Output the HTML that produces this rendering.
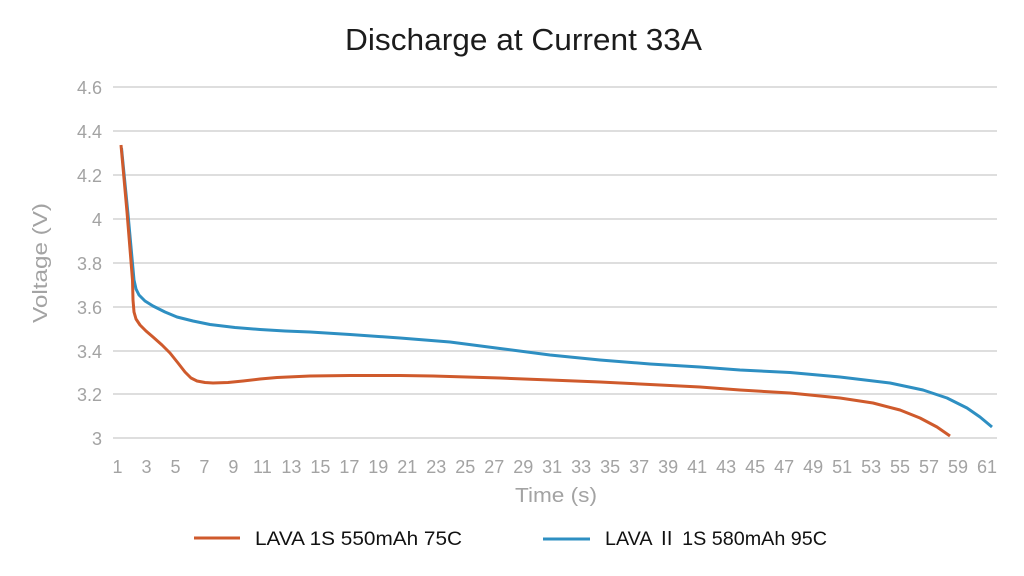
<!DOCTYPE html>
<html>
<head>
<meta charset="utf-8">
<style>
html,body{margin:0;padding:0;background:#fff;}
svg{display:block;}
text{font-family:"Liberation Sans","Noto Sans CJK SC",sans-serif;}
</style>
</head>
<body>
<svg width="1024" height="576" viewBox="0 0 1024 576" xmlns="http://www.w3.org/2000/svg">
<rect width="1024" height="576" fill="#fff"/>
<!-- title -->
<text x="345" y="50" font-size="31" fill="#1c1c1c" textLength="357" lengthAdjust="spacingAndGlyphs">Discharge at Current 33A</text>
<!-- gridlines -->
<g stroke="#d4d4d4" stroke-width="1.5">
<line x1="113" y1="87" x2="997" y2="87"/>
<line x1="113" y1="131" x2="997" y2="131"/>
<line x1="113" y1="175" x2="997" y2="175"/>
<line x1="113" y1="219" x2="997" y2="219"/>
<line x1="113" y1="263" x2="997" y2="263"/>
<line x1="113" y1="307" x2="997" y2="307"/>
<line x1="113" y1="351" x2="997" y2="351"/>
<line x1="113" y1="394" x2="997" y2="394"/>
<line x1="113" y1="438" x2="997" y2="438"/>
</g>
<!-- y tick labels -->
<g font-size="18" fill="#a3a3a3" text-anchor="end">
<text x="102" y="94">4.6</text>
<text x="102" y="138">4.4</text>
<text x="102" y="182">4.2</text>
<text x="102" y="226">4</text>
<text x="102" y="270">3.8</text>
<text x="102" y="314">3.6</text>
<text x="102" y="358">3.4</text>
<text x="102" y="401">3.2</text>
<text x="102" y="445">3</text>
</g>
<!-- y axis title -->
<text transform="translate(47,263) rotate(-90)" font-size="20" fill="#a3a3a3" text-anchor="middle" textLength="120" lengthAdjust="spacingAndGlyphs">Voltage (V)</text>
<!-- x tick labels -->
<g font-size="18" fill="#a3a3a3" text-anchor="middle">
<text x="117.5" y="473">1</text>
<text x="146.5" y="473">3</text>
<text x="175.5" y="473">5</text>
<text x="204.4" y="473">7</text>
<text x="233.4" y="473">9</text>
<text x="262.4" y="473">11</text>
<text x="291.4" y="473">13</text>
<text x="320.4" y="473">15</text>
<text x="349.4" y="473">17</text>
<text x="378.3" y="473">19</text>
<text x="407.3" y="473">21</text>
<text x="436.3" y="473">23</text>
<text x="465.3" y="473">25</text>
<text x="494.3" y="473">27</text>
<text x="523.3" y="473">29</text>
<text x="552.2" y="473">31</text>
<text x="581.2" y="473">33</text>
<text x="610.2" y="473">35</text>
<text x="639.2" y="473">37</text>
<text x="668.2" y="473">39</text>
<text x="697.2" y="473">41</text>
<text x="726.1" y="473">43</text>
<text x="755.1" y="473">45</text>
<text x="784.1" y="473">47</text>
<text x="813.1" y="473">49</text>
<text x="842.1" y="473">51</text>
<text x="871.1" y="473">53</text>
<text x="900.0" y="473">55</text>
<text x="929.0" y="473">57</text>
<text x="958.0" y="473">59</text>
<text x="987.0" y="473">61</text>
</g>
<!-- x axis title -->
<text x="515" y="502" font-size="20" fill="#a3a3a3" textLength="82" lengthAdjust="spacingAndGlyphs">Time (s)</text>
<!-- series -->
<polyline fill="none" stroke="#2e8fc2" stroke-width="3" stroke-linejoin="round" stroke-linecap="butt"
points="121.5,148 128,214 134,280 136,289 139,295 145,301 153,306 165,312 177,317 193,321 210,324.5 235,327.5 260,329.5 285,331 310,332 350,334.5 400,338 450,342 500,348.5 550,355 600,360 650,364 700,367 740,370 790,372.5 840,377 890,383 923,390 947,398 967,408 980,417 992,427"/>
<polyline fill="none" stroke="#cf5a2c" stroke-width="3" stroke-linejoin="round" stroke-linecap="butt"
points="121,145 127,212 132.5,280 133,300 134,312 136,319 140,325 146,331 153,337 162,345 170,353 178,363 185,372 191,378 197,381 205,382.5 213,383 228,382.5 243,381 260,379 277,377.5 310,376 350,375.5 400,375.5 433,376 500,378 550,380 600,382 650,384.5 700,387 740,390 790,393 840,398 873,403 900,410 920,418 937,427 950,436"/>
<!-- legend -->
<line x1="194" y1="538" x2="240" y2="538" stroke="#cf5a2c" stroke-width="3"/>
<text x="255" y="545" font-size="19" fill="#111" textLength="207" lengthAdjust="spacingAndGlyphs">LAVA 1S 550mAh 75C</text>
<line x1="543" y1="539" x2="590" y2="539" stroke="#2e8fc2" stroke-width="3"/>
<text x="605" y="545" font-size="19" fill="#111" textLength="222" lengthAdjust="spacingAndGlyphs">LAVA Ⅱ 1S 580mAh 95C</text>
</svg>
</body>
</html>
